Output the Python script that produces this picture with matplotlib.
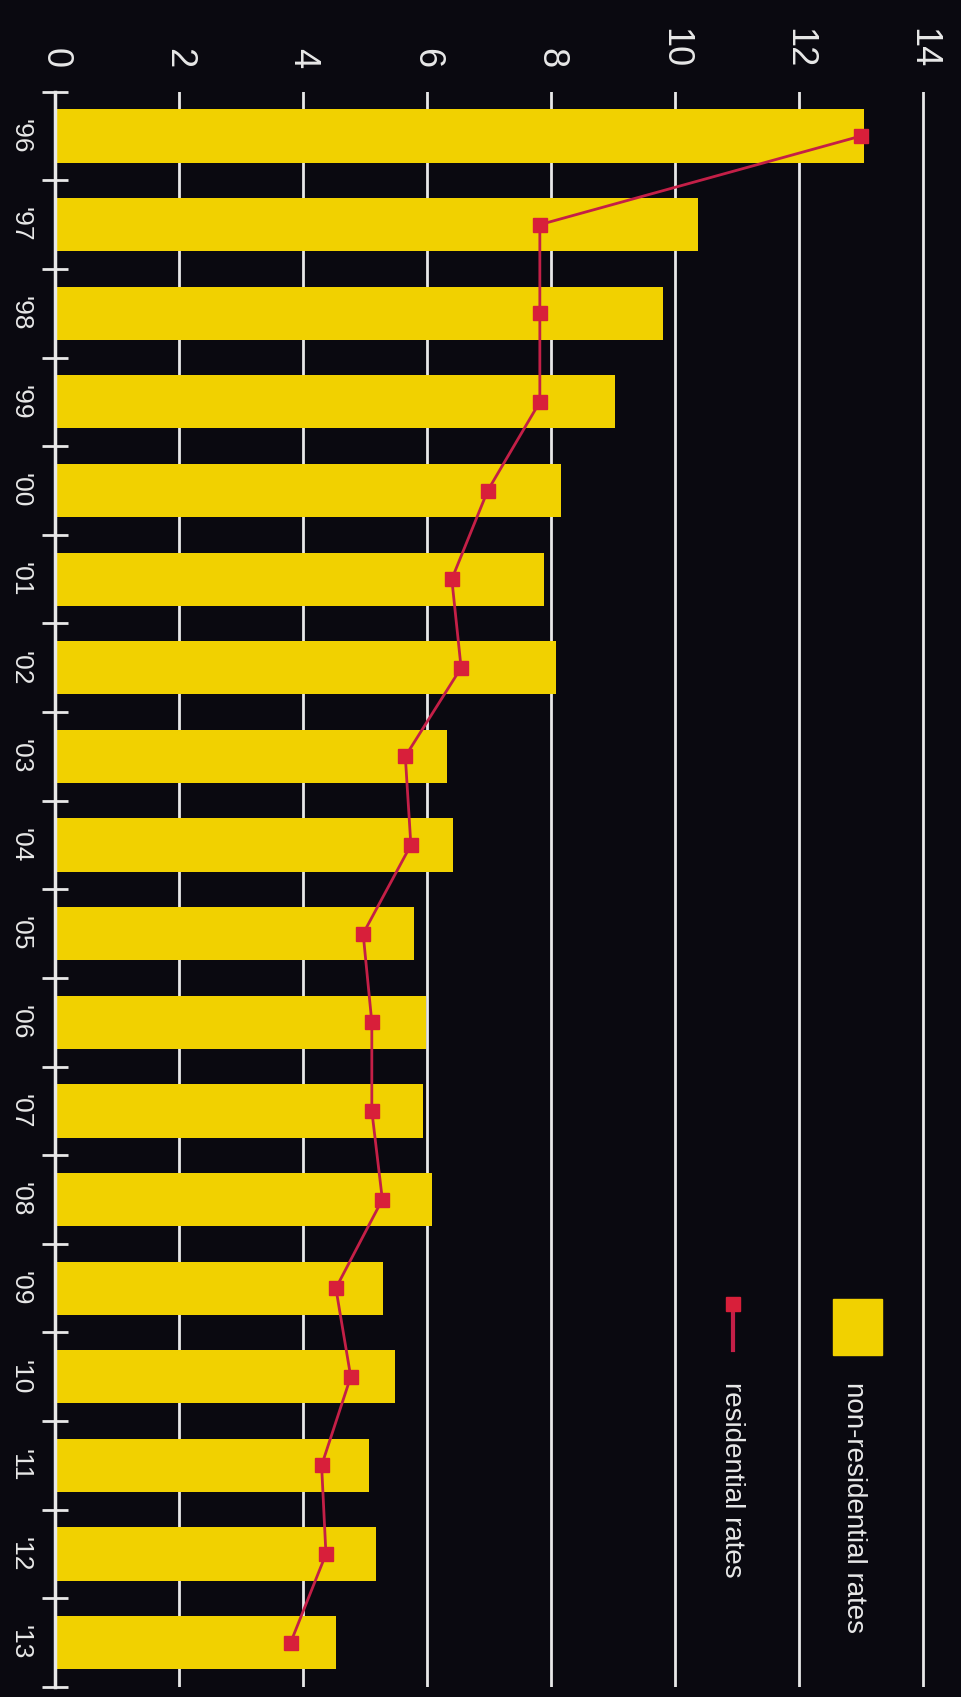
import numpy as np
import matplotlib.pyplot as plt
from matplotlib.lines import Line2D
from matplotlib.patches import Rectangle
from matplotlib.ticker import FixedLocator

# ── style ─────────────────────────────────────────────────────────────────────
BG       = "#0a0910"
YELLOW   = "#f1d100"
RED      = "#d81f3a"
LINE_RED = "#c41f47"
WHITE    = "#e8e8e8"

plt.rcParams["font.family"] = ["Liberation Sans", "DejaVu Sans"]

# ── data ──────────────────────────────────────────────────────────────────────
years = ["'96", "'97", "'98", "'99", "'00", "'01", "'02", "'03", "'04",
         "'05", "'06", "'07", "'08", "'09", "'10", "'11", "'12", "'13"]
non_residential = [13.05, 10.37, 9.81, 9.03, 8.16, 7.89, 8.08, 6.32, 6.42,
                   5.79, 5.98, 5.93, 6.08, 5.29, 5.48, 5.07, 5.18, 4.53]
residential = [13.00, 7.82, 7.82, 7.82, 6.98, 6.40, 6.55, 5.65, 5.74,
               4.97, 5.11, 5.11, 5.28, 4.53, 4.77, 4.30, 4.37, 3.80]
value_ticks = [0, 2, 4, 6, 8, 10, 12, 14]

# ── figure ────────────────────────────────────────────────────────────────────
W, H = 961, 1697
fig = plt.figure(figsize=(W / 100, H / 100), dpi=100, facecolor=BG)

def fx(px):
    return px / W

def fy(py):
    return 1 - py / H

ax_left, ax_right, ax_top, ax_bot = 55, 960, 91.7, 1687
ax = fig.add_axes([fx(ax_left), fy(ax_bot), fx(ax_right - ax_left), (ax_bot - ax_top) / H])
ax.set_facecolor(BG)

pos = np.arange(len(years))
ax.barh(pos, non_residential, height=0.6, color=YELLOW, zorder=2)
ax.plot(residential, pos, color=LINE_RED, lw=2, marker="s", ms=10,
        mfc=RED, mec=RED, zorder=3)

ax.set_xlim(0, (ax_right - ax_left) / 62)
ax.set_ylim(len(years) - 0.5, -0.5)
ax.set_axisbelow(True)
ax.grid(axis="x", color=WHITE, lw=2)
ax.grid(axis="y", visible=False)

for s in ("top", "right", "bottom"):
    ax.spines[s].set_visible(False)
ax.spines["left"].set_color(WHITE)
ax.spines["left"].set_linewidth(2.5)

# value axis on top, labels turned like the scan
ax.xaxis.tick_top()
ax.set_xticks(value_ticks)
ax.set_xticklabels([str(v) for v in value_ticks], rotation=-90,
                   ha="center", va="bottom", fontsize=26, color=WHITE)
ax.tick_params(axis="x", length=0, pad=17)

# years on the left, ticks between bars
ax.set_yticks(pos)
ax.set_yticklabels(years, rotation=-90, ha="right", va="center",
                   fontsize=19, color=WHITE)
ax.tick_params(axis="y", which="major", length=0, pad=16)
ax.yaxis.set_minor_locator(FixedLocator(np.arange(-0.5, len(years), 1.0)))
ax.tick_params(axis="y", which="minor", direction="inout", length=18.7,
               width=2, color=WHITE)

# ── legend (rotated, drawn by hand) ───────────────────────────────────────────
fig.patches.append(Rectangle((fx(833), fy(1355)), fx(49), 56 / H,
                             transform=fig.transFigure, color=YELLOW))
fig.add_artist(Line2D([fx(733), fx(733)], [fy(1304), fy(1350)],
                      transform=fig.transFigure, color=LINE_RED, lw=3,
                      marker="s", markevery=[0], ms=10, mfc=RED, mec=RED))
fig.text(fx(854), fy(1382), "non-residential rates", rotation=-90,
         ha="center", va="top", fontsize=20, color=WHITE)
fig.text(fx(732), fy(1382), "residential rates", rotation=-90,
         ha="center", va="top", fontsize=20, color=WHITE)

fig.savefig("out.png", dpi=100, facecolor=BG)
